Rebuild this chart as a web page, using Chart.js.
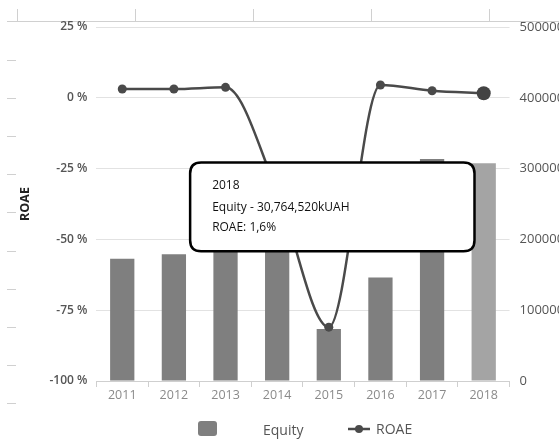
<!DOCTYPE html>
<html>
<head>
<meta charset="utf-8">
<script src="https://cdn.jsdelivr.net/npm/chart.js@4.4.1/dist/chart.umd.min.js"></script>
<style>
  html, body { margin: 0; padding: 0; background: #fff; overflow: hidden; }
  #wrap { position: relative; width: 611px; height: 439px; }
  #legend {
    position: absolute; left: 0; top: 0; width: 100%; height: 100%;
    pointer-events: none;
    font-family: 'Open Sans', sans-serif; font-size: 14px; color: #555;
  }
  #legend > * { position: absolute; display: block; }
  #legend .swatch { width: 19px; height: 15px; border-radius: 3px; }
  #legend span { line-height: 18px; white-space: nowrap; }
</style>
</head>
<body>
<div id="wrap">
  <canvas id="chart"></canvas>
  <div id="legend"></div>
</div>
<script>
// Yearly figures
const years = ['2011', '2012', '2013', '2014', '2015', '2016', '2017', '2018'];
const equityKUAH = [17250000, 17900000, 19600000, 21400000, 7350000, 14630000, 31350000, 30764520];
const roaePct = [3.1, 3.1, 3.7, -33, -81, 4.5, 2.5, 1.6];

// Axis ranges
const roaeRange = { min: -100, max: 25, step: 25 };
const equityRange = { min: 0, max: 50000000, step: 10000000 };

const FONT = "'Open Sans', sans-serif";
Chart.defaults.font.family = FONT;

const BAR_COLOR = '#7f7f7f';
const LINE_COLOR = '#4a4a4a';

function groupThousands(n) {
  return String(n).replace(/\B(?=(\d{3})+(?!\d))/g, ',');
}

// Detail panel sits in the middle of the plot
Chart.Tooltip.positioners.panel = function () {
  const a = this.chart.chartArea;
  if (!a) return false;
  return { x: a.left + a.width * 0.571, y: a.top + a.height * 0.508 };
};

// Thin frame lines around the plot area
const frameMarks = {
  id: 'frameMarks',
  beforeDraw(chart) {
    const ctx = chart.ctx;
    ctx.save();
    ctx.strokeStyle = '#d0d0d0';
    ctx.lineWidth = 1;
    ctx.beginPath();
    ctx.moveTo(7, 21.5);
    ctx.lineTo(chart.width, 21.5);
    for (let i = 0; i < 5; i++) {
      const x = 17.5 + 118 * i;
      ctx.moveTo(x, 9);
      ctx.lineTo(x, 21.5);
    }
    for (let i = 0; i < 10; i++) {
      const y = Math.round(60 + 38.1 * i) + 0.5;
      ctx.moveTo(7, y);
      ctx.lineTo(16, y);
    }
    ctx.stroke();
    ctx.restore();
  }
};

const chart = new Chart(document.getElementById('chart'), {
  data: {
    labels: years,
    datasets: [
      {
        type: 'bar',
        label: 'Equity',
        data: equityKUAH,
        yAxisID: 'yEq',
        backgroundColor: BAR_COLOR,
        hoverBackgroundColor: '#a4a4a4',
        barPercentage: 0.47,
        categoryPercentage: 1,
        order: 2
      },
      {
        type: 'line',
        label: 'ROAE',
        data: roaePct,
        yAxisID: 'yRoae',
        borderColor: LINE_COLOR,
        backgroundColor: LINE_COLOR,
        borderWidth: 2.5,
        pointRadius: 4.5,
        pointHoverRadius: 7,
        pointBackgroundColor: LINE_COLOR,
        pointBorderWidth: 0,
        pointHoverBorderWidth: 0,
        cubicInterpolationMode: 'monotone',
        order: 1
      }
    ]
  },
  options: {
    responsive: true,
    maintainAspectRatio: false,
    animation: false,
    events: [],
    layout: { padding: { top: 27, left: 18, right: 22, bottom: 35 } },
    scales: {
      x: {
        grid: { offset: true, drawOnChartArea: false, tickLength: 6, color: '#cfcfcf' },
        border: { color: '#cfcfcf' },
        ticks: { color: '#8a8a8a', font: { size: 12.5 }, padding: 1 }
      },
      yRoae: {
        position: 'left',
        min: roaeRange.min,
        max: roaeRange.max,
        ticks: {
          stepSize: roaeRange.step,
          callback: v => v + ' %',
          color: '#555',
          font: { size: 12, weight: '600' },
          padding: 9
        },
        grid: { color: '#e2e2e2', drawTicks: false },
        border: { display: false },
        title: {
          display: true,
          text: 'ROAE',
          color: '#222',
          font: { size: 12.5, weight: 'bold' },
          padding: { top: 0, bottom: 7.5 }
        }
      },
      yEq: {
        position: 'right',
        min: equityRange.min,
        max: equityRange.max,
        ticks: {
          stepSize: equityRange.step,
          callback: v => String(v),
          color: '#555',
          font: { size: 13 },
          padding: 10
        },
        grid: { drawOnChartArea: false, drawTicks: false },
        border: { display: false }
      }
    },
    plugins: {
      legend: { display: false },
      tooltip: {
        enabled: true,
        mode: 'index',
        position: 'panel',
        xAlign: 'center',
        yAlign: 'center',
        caretSize: 0,
        caretPadding: 0,
        backgroundColor: '#fff',
        borderColor: '#000',
        borderWidth: 2.5,
        cornerRadius: 11,
        titleColor: '#111',
        bodyColor: '#111',
        titleFont: { size: 12, weight: 'normal' },
        bodyFont: { size: 12 },
        titleMarginBottom: 7.4,
        bodySpacing: 5.6,
        padding: { top: 16, left: 22, right: 125, bottom: 16.5 },
        displayColors: false,
        callbacks: {
          title: items => items[0].label,
          label: c => c.datasetIndex === 0
            ? 'Equity - ' + groupThousands(c.raw) + 'kUAH'
            : 'ROAE: ' + String(c.raw).replace('.', ',') + '%'
        }
      }
    }
  },
  plugins: [frameMarks]
});

// Highlight the latest year and show its details
const latest = years.length - 1;
const focus = [{ datasetIndex: 0, index: latest }, { datasetIndex: 1, index: latest }];
chart.setActiveElements(focus);
chart.tooltip.setActiveElements(focus, { x: 0, y: 0 });
chart.update();

// Legend built from the chart's datasets
(function buildLegend() {
  const host = document.getElementById('legend');
  const [bars, line] = chart.data.datasets;

  const place = (el, left, top) => {
    el.style.left = left + 'px';
    el.style.top = top + 'px';
    host.appendChild(el);
  };

  const sw = document.createElement('div');
  sw.className = 'swatch';
  sw.style.background = bars.backgroundColor;
  place(sw, 198, 421);

  const t1 = document.createElement('span');
  t1.textContent = bars.label;
  place(t1, 263, 421);

  const icon = document.createElement('canvas');
  icon.width = 22; icon.height = 10;
  const g = icon.getContext('2d');
  g.strokeStyle = line.borderColor;
  g.fillStyle = line.borderColor;
  g.lineWidth = 2.5;
  g.beginPath(); g.moveTo(0, 5); g.lineTo(22, 5); g.stroke();
  g.beginPath(); g.arc(11, 5, 4, 0, Math.PI * 2); g.fill();
  place(icon, 348, 424);

  const t2 = document.createElement('span');
  t2.textContent = line.label;
  place(t2, 376, 420);
})();
</script>
</body>
</html>
